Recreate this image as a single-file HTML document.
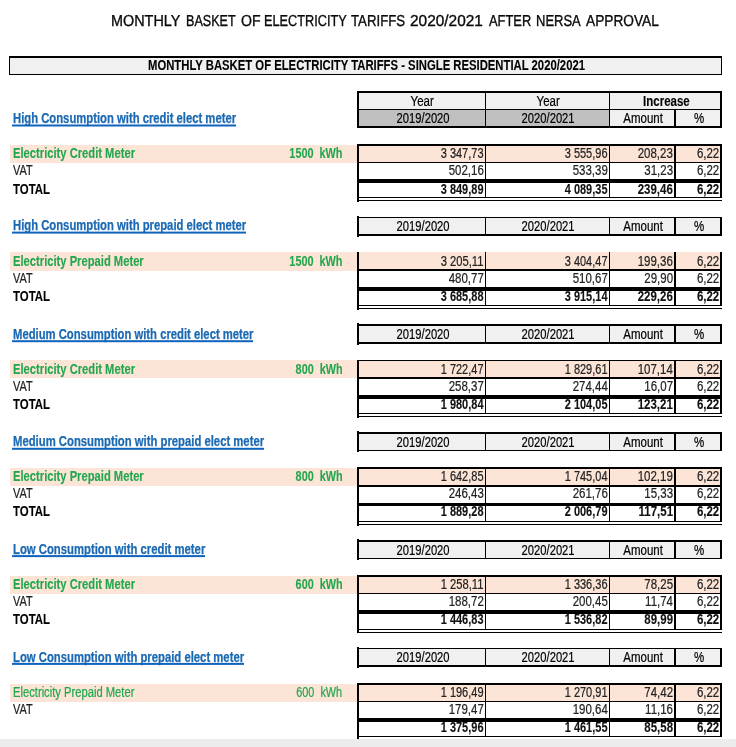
<!DOCTYPE html>
<html><head><meta charset="utf-8"><title>Monthly basket of electricity tariffs</title>
<style>
html,body{margin:0;padding:0;background:#fff}
body{width:736px;height:747px;position:relative;overflow:hidden;will-change:transform;font-family:"Liberation Sans",sans-serif}
.r{position:absolute}
.t{position:absolute;white-space:pre;line-height:1;font-size:14px;-webkit-text-stroke:.22px currentColor}
</style></head><body>
<span class="t" style="top:14.37px;color:#0a0a0a;font-size:15.9px;left:110.95px;transform-origin:0 0;transform:scaleX(0.9064);text-rendering:geometricPrecision;-webkit-text-stroke-width:.35px;">MONTHLY</span>
<span class="t" style="top:14.37px;color:#0a0a0a;font-size:15.9px;left:186.2px;transform-origin:0 0;transform:scaleX(0.7910);text-rendering:geometricPrecision;-webkit-text-stroke-width:.35px;">BASKET</span>
<span class="t" style="top:14.37px;color:#0a0a0a;font-size:15.9px;left:241.2px;transform-origin:0 0;transform:scaleX(0.8878);text-rendering:geometricPrecision;-webkit-text-stroke-width:.35px;">OF</span>
<span class="t" style="top:14.37px;color:#0a0a0a;font-size:15.9px;left:264.2px;transform-origin:0 0;transform:scaleX(0.8019);text-rendering:geometricPrecision;-webkit-text-stroke-width:.35px;">ELECTRICITY</span>
<span class="t" style="top:14.37px;color:#0a0a0a;font-size:15.9px;left:351.2px;transform-origin:0 0;transform:scaleX(0.8319);text-rendering:geometricPrecision;-webkit-text-stroke-width:.35px;">TARIFFS</span>
<span class="t" style="top:14.37px;color:#0a0a0a;font-size:15.9px;left:410.45px;transform-origin:0 0;transform:scaleX(0.9697);text-rendering:geometricPrecision;-webkit-text-stroke-width:.35px;">2020/2021</span>
<span class="t" style="top:14.37px;color:#0a0a0a;font-size:15.9px;left:488.55px;transform-origin:0 0;transform:scaleX(0.8110);text-rendering:geometricPrecision;-webkit-text-stroke-width:.35px;">AFTER</span>
<span class="t" style="top:14.37px;color:#0a0a0a;font-size:15.9px;left:536.2px;transform-origin:0 0;transform:scaleX(0.8174);text-rendering:geometricPrecision;-webkit-text-stroke-width:.35px;">NERSA</span>
<span class="t" style="top:14.37px;color:#0a0a0a;font-size:15.9px;left:586.3px;transform-origin:0 0;transform:scaleX(0.8627);text-rendering:geometricPrecision;-webkit-text-stroke-width:.35px;">APPROVAL</span>
<div class="r" style="left:9px;top:56px;width:713px;height:19px;background:#000"></div>
<div class="r" style="left:10px;top:58px;width:711px;height:16px;background:#f0f0f0"></div>
<span class="t" style="top:58.00px;color:#000;font-weight:700;-webkit-text-stroke-width:.12px;left:147.8px;transform-origin:0 0;transform:scaleX(0.8071);">MONTHLY BASKET OF ELECTRICITY TARIFFS - SINGLE RESIDENTIAL 2020/2021</span>
<div class="r" style="left:357px;top:91px;width:365px;height:19px;background:#000"></div>
<div class="r" style="left:359px;top:93px;width:361px;height:16px;background:#f0f0f0"></div>
<div class="r" style="left:485px;top:93px;width:1px;height:16px;background:#000"></div>
<div class="r" style="left:609px;top:93px;width:1px;height:16px;background:#000"></div>
<span class="t" style="top:94.00px;color:#000;left:408.35px;transform-origin:50% 0;transform:scaleX(0.8200);">Year</span>
<span class="t" style="top:94.00px;color:#000;left:533.85px;transform-origin:50% 0;transform:scaleX(0.8200);">Year</span>
<span class="t" style="top:94.00px;color:#000;font-weight:700;-webkit-text-stroke-width:.12px;left:637.59px;transform-origin:50% 0;transform:scaleX(0.8200);">Increase</span>
<span class="t" style="top:110.60px;color:#1b69b3;font-weight:700;-webkit-text-stroke-width:.12px;left:12.5px;transform-origin:0 0;transform:scaleX(0.8056);-webkit-text-stroke-width:.25px;">High Consumption with credit elect meter</span>
<div class="r" style="left:12px;top:124px;width:224px;height:2px;background:#0f65bd;transform:translateY(0.5px)"></div>
<div class="r" style="left:357px;top:109px;width:365px;height:19px;background:#000"></div>
<div class="r" style="left:359px;top:110px;width:361px;height:16px;background:#f0f0f0"></div>
<div class="r" style="left:359px;top:110px;width:250px;height:16px;background:#c0c0c0"></div>
<div class="r" style="left:485px;top:110px;width:1px;height:16px;background:#000"></div>
<div class="r" style="left:609px;top:110px;width:1px;height:16px;background:#000"></div>
<div class="r" style="left:674px;top:110px;width:2px;height:16px;background:#000"></div>
<span class="t" style="top:111.25px;color:#000;left:389.71px;transform-origin:50% 0;transform:scaleX(0.8008);">2019/2020</span>
<span class="t" style="top:111.25px;color:#000;left:514.71px;transform-origin:50% 0;transform:scaleX(0.8008);">2020/2021</span>
<span class="t" style="top:111.25px;color:#000;left:618.88px;transform-origin:50% 0;transform:scaleX(0.8200);">Amount</span>
<span class="t" style="top:111.25px;color:#000;left:693.07px;transform-origin:50% 0;transform:scaleX(0.8200);">%</span>
<div class="r" style="left:10px;top:145px;width:347px;height:18px;background:#fce4d6"></div>
<div class="r" style="left:357px;top:144px;width:2px;height:58px;background:#000"></div>
<div class="r" style="left:720px;top:144px;width:2px;height:54px;background:#000"></div>
<div class="r" style="left:357px;top:144px;width:365px;height:2px;background:#000"></div>
<div class="r" style="left:359px;top:146px;width:361px;height:16px;background:#fce4d6"></div>
<div class="r" style="left:357px;top:162px;width:365px;height:1px;background:#000"></div>
<div class="r" style="left:357px;top:179px;width:365px;height:4px;background:#000"></div>
<div class="r" style="left:357px;top:197px;width:365px;height:1px;background:#000"></div>
<div class="r" style="left:357px;top:200px;width:365px;height:1px;background:#000"></div>
<div class="r" style="left:485px;top:146px;width:1px;height:51px;background:#000"></div>
<div class="r" style="left:609px;top:146px;width:1px;height:51px;background:#000"></div>
<div class="r" style="left:674px;top:146px;width:2px;height:51px;background:#000"></div>
<span class="t" style="top:146.00px;color:#22a74f;font-weight:700;-webkit-text-stroke-width:.12px;left:12.5px;transform-origin:0 0;transform:scaleX(0.8000);">Electricity Credit Meter</span>
<span class="t" style="top:146.00px;color:#22a74f;font-weight:700;-webkit-text-stroke-width:.12px;left:274.12px;transform-origin:100% 0;transform:scaleX(0.7760);">1500  kWh</span>
<span class="t" style="top:163.00px;color:#222;left:12.6px;transform-origin:0 0;transform:scaleX(0.7791);">VAT</span>
<span class="t" style="top:181.80px;color:#000;font-weight:700;-webkit-text-stroke-width:.12px;left:12.6px;transform-origin:0 0;transform:scaleX(0.8154);">TOTAL</span>
<span class="t" style="top:146.00px;color:#222;left:429.20px;transform-origin:100% 0;transform:scaleX(0.7844);">3 347,73</span>
<span class="t" style="top:146.00px;color:#222;left:553.20px;transform-origin:100% 0;transform:scaleX(0.7844);">3 555,96</span>
<span class="t" style="top:146.00px;color:#222;left:630.47px;transform-origin:100% 0;transform:scaleX(0.8200);">208,23</span>
<span class="t" style="top:146.00px;color:#222;left:691.65px;transform-origin:100% 0;transform:scaleX(0.8200);">6,22</span>
<span class="t" style="top:163.00px;color:#222;left:440.87px;transform-origin:100% 0;transform:scaleX(0.8200);">502,16</span>
<span class="t" style="top:163.00px;color:#222;left:564.87px;transform-origin:100% 0;transform:scaleX(0.8200);">533,39</span>
<span class="t" style="top:163.00px;color:#222;left:638.25px;transform-origin:100% 0;transform:scaleX(0.8200);">31,23</span>
<span class="t" style="top:163.00px;color:#222;left:691.65px;transform-origin:100% 0;transform:scaleX(0.8200);">6,22</span>
<span class="t" style="top:181.60px;color:#111;font-weight:700;-webkit-text-stroke-width:.12px;left:429.20px;transform-origin:100% 0;transform:scaleX(0.7844);">3 849,89</span>
<span class="t" style="top:181.60px;color:#111;font-weight:700;-webkit-text-stroke-width:.12px;left:553.20px;transform-origin:100% 0;transform:scaleX(0.7844);">4 089,35</span>
<span class="t" style="top:181.60px;color:#111;font-weight:700;-webkit-text-stroke-width:.12px;left:630.47px;transform-origin:100% 0;transform:scaleX(0.8200);">239,46</span>
<span class="t" style="top:181.60px;color:#111;font-weight:700;-webkit-text-stroke-width:.12px;left:691.65px;transform-origin:100% 0;transform:scaleX(0.8200);">6,22</span>
<span class="t" style="top:218.20px;color:#1b69b3;font-weight:700;-webkit-text-stroke-width:.12px;left:12.5px;transform-origin:0 0;transform:scaleX(0.8056);-webkit-text-stroke-width:.25px;">High Consumption with prepaid elect meter</span>
<div class="r" style="left:12px;top:231px;width:234px;height:2px;background:#0f65bd;transform:translateY(0.6px)"></div>
<div class="r" style="left:357px;top:216px;width:2px;height:21px;background:#000"></div>
<div class="r" style="left:357px;top:217px;width:365px;height:19px;background:#000"></div>
<div class="r" style="left:359px;top:218px;width:361px;height:16px;background:#f0f0f0"></div>
<div class="r" style="left:485px;top:218px;width:1px;height:16px;background:#000"></div>
<div class="r" style="left:609px;top:218px;width:1px;height:16px;background:#000"></div>
<div class="r" style="left:674px;top:218px;width:2px;height:16px;background:#000"></div>
<span class="t" style="top:218.90px;color:#000;left:389.71px;transform-origin:50% 0;transform:scaleX(0.8008);">2019/2020</span>
<span class="t" style="top:218.90px;color:#000;left:514.71px;transform-origin:50% 0;transform:scaleX(0.8008);">2020/2021</span>
<span class="t" style="top:218.90px;color:#000;left:618.88px;transform-origin:50% 0;transform:scaleX(0.8200);">Amount</span>
<span class="t" style="top:218.90px;color:#000;left:693.07px;transform-origin:50% 0;transform:scaleX(0.8200);">%</span>
<div class="r" style="left:10px;top:252px;width:347px;height:19px;background:#fce4d6"></div>
<div class="r" style="left:357px;top:252px;width:2px;height:58px;background:#000"></div>
<div class="r" style="left:720px;top:252px;width:2px;height:54px;background:#000"></div>
<div class="r" style="left:359px;top:252px;width:361px;height:17px;background:#fce4d6"></div>
<div class="r" style="left:357px;top:269px;width:365px;height:2px;background:#000"></div>
<div class="r" style="left:357px;top:287px;width:365px;height:4px;background:#000"></div>
<div class="r" style="left:357px;top:305px;width:365px;height:1px;background:#000"></div>
<div class="r" style="left:357px;top:308px;width:365px;height:1px;background:#000"></div>
<div class="r" style="left:485px;top:252px;width:1px;height:53px;background:#000"></div>
<div class="r" style="left:609px;top:252px;width:1px;height:53px;background:#000"></div>
<div class="r" style="left:674px;top:252px;width:2px;height:53px;background:#000"></div>
<span class="t" style="top:253.80px;color:#22a74f;font-weight:700;-webkit-text-stroke-width:.12px;left:12.5px;transform-origin:0 0;transform:scaleX(0.8000);">Electricity Prepaid Meter</span>
<span class="t" style="top:253.80px;color:#22a74f;font-weight:700;-webkit-text-stroke-width:.12px;left:274.12px;transform-origin:100% 0;transform:scaleX(0.7760);">1500  kWh</span>
<span class="t" style="top:270.80px;color:#222;left:12.6px;transform-origin:0 0;transform:scaleX(0.7791);">VAT</span>
<span class="t" style="top:289.10px;color:#000;font-weight:700;-webkit-text-stroke-width:.12px;left:12.6px;transform-origin:0 0;transform:scaleX(0.8154);">TOTAL</span>
<span class="t" style="top:253.80px;color:#222;left:430.23px;transform-origin:100% 0;transform:scaleX(0.7995);">3 205,11</span>
<span class="t" style="top:253.80px;color:#222;left:553.20px;transform-origin:100% 0;transform:scaleX(0.7844);">3 404,47</span>
<span class="t" style="top:253.80px;color:#222;left:630.47px;transform-origin:100% 0;transform:scaleX(0.8200);">199,36</span>
<span class="t" style="top:253.80px;color:#222;left:691.65px;transform-origin:100% 0;transform:scaleX(0.8200);">6,22</span>
<span class="t" style="top:270.80px;color:#222;left:440.87px;transform-origin:100% 0;transform:scaleX(0.8200);">480,77</span>
<span class="t" style="top:270.80px;color:#222;left:564.87px;transform-origin:100% 0;transform:scaleX(0.8200);">510,67</span>
<span class="t" style="top:270.80px;color:#222;left:638.25px;transform-origin:100% 0;transform:scaleX(0.8200);">29,90</span>
<span class="t" style="top:270.80px;color:#222;left:691.65px;transform-origin:100% 0;transform:scaleX(0.8200);">6,22</span>
<span class="t" style="top:289.00px;color:#111;font-weight:700;-webkit-text-stroke-width:.12px;left:429.20px;transform-origin:100% 0;transform:scaleX(0.7844);">3 685,88</span>
<span class="t" style="top:289.00px;color:#111;font-weight:700;-webkit-text-stroke-width:.12px;left:553.20px;transform-origin:100% 0;transform:scaleX(0.7844);">3 915,14</span>
<span class="t" style="top:289.00px;color:#111;font-weight:700;-webkit-text-stroke-width:.12px;left:630.47px;transform-origin:100% 0;transform:scaleX(0.8200);">229,26</span>
<span class="t" style="top:289.00px;color:#111;font-weight:700;-webkit-text-stroke-width:.12px;left:691.65px;transform-origin:100% 0;transform:scaleX(0.8200);">6,22</span>
<span class="t" style="top:326.80px;color:#1b69b3;font-weight:700;-webkit-text-stroke-width:.12px;left:12.5px;transform-origin:0 0;transform:scaleX(0.8051);-webkit-text-stroke-width:.25px;">Medium Consumption with credit elect meter</span>
<div class="r" style="left:12px;top:340px;width:241px;height:2px;background:#0f65bd;transform:translateY(0.2px)"></div>
<div class="r" style="left:357px;top:323px;width:2px;height:22px;background:#000"></div>
<div class="r" style="left:357px;top:324px;width:365px;height:20px;background:#000"></div>
<div class="r" style="left:359px;top:326px;width:361px;height:16px;background:#f0f0f0"></div>
<div class="r" style="left:485px;top:326px;width:1px;height:16px;background:#000"></div>
<div class="r" style="left:609px;top:326px;width:1px;height:16px;background:#000"></div>
<div class="r" style="left:674px;top:326px;width:2px;height:16px;background:#000"></div>
<span class="t" style="top:326.80px;color:#000;left:389.71px;transform-origin:50% 0;transform:scaleX(0.8008);">2019/2020</span>
<span class="t" style="top:326.80px;color:#000;left:514.71px;transform-origin:50% 0;transform:scaleX(0.8008);">2020/2021</span>
<span class="t" style="top:326.80px;color:#000;left:618.88px;transform-origin:50% 0;transform:scaleX(0.8200);">Amount</span>
<span class="t" style="top:326.80px;color:#000;left:693.07px;transform-origin:50% 0;transform:scaleX(0.8200);">%</span>
<div class="r" style="left:10px;top:360px;width:347px;height:18px;background:#fce4d6"></div>
<div class="r" style="left:357px;top:360px;width:2px;height:58px;background:#000"></div>
<div class="r" style="left:720px;top:360px;width:2px;height:54px;background:#000"></div>
<div class="r" style="left:357px;top:360px;width:365px;height:1px;background:#000"></div>
<div class="r" style="left:359px;top:361px;width:361px;height:16px;background:#fce4d6"></div>
<div class="r" style="left:357px;top:377px;width:365px;height:2px;background:#000"></div>
<div class="r" style="left:357px;top:395px;width:365px;height:4px;background:#000"></div>
<div class="r" style="left:357px;top:413px;width:365px;height:1px;background:#000"></div>
<div class="r" style="left:357px;top:416px;width:365px;height:1px;background:#000"></div>
<div class="r" style="left:485px;top:361px;width:1px;height:52px;background:#000"></div>
<div class="r" style="left:609px;top:361px;width:1px;height:52px;background:#000"></div>
<div class="r" style="left:674px;top:361px;width:2px;height:52px;background:#000"></div>
<span class="t" style="top:361.60px;color:#22a74f;font-weight:700;-webkit-text-stroke-width:.12px;left:12.5px;transform-origin:0 0;transform:scaleX(0.8000);">Electricity Credit Meter</span>
<span class="t" style="top:361.60px;color:#22a74f;font-weight:700;-webkit-text-stroke-width:.12px;left:281.90px;transform-origin:100% 0;transform:scaleX(0.7760);">800  kWh</span>
<span class="t" style="top:378.60px;color:#222;left:12.6px;transform-origin:0 0;transform:scaleX(0.7791);">VAT</span>
<span class="t" style="top:396.60px;color:#000;font-weight:700;-webkit-text-stroke-width:.12px;left:12.6px;transform-origin:0 0;transform:scaleX(0.8154);">TOTAL</span>
<span class="t" style="top:361.60px;color:#222;left:429.20px;transform-origin:100% 0;transform:scaleX(0.7844);">1 722,47</span>
<span class="t" style="top:361.60px;color:#222;left:553.20px;transform-origin:100% 0;transform:scaleX(0.7844);">1 829,61</span>
<span class="t" style="top:361.60px;color:#222;left:630.47px;transform-origin:100% 0;transform:scaleX(0.8200);">107,14</span>
<span class="t" style="top:361.60px;color:#222;left:691.65px;transform-origin:100% 0;transform:scaleX(0.8200);">6,22</span>
<span class="t" style="top:378.60px;color:#222;left:440.87px;transform-origin:100% 0;transform:scaleX(0.8200);">258,37</span>
<span class="t" style="top:378.60px;color:#222;left:564.87px;transform-origin:100% 0;transform:scaleX(0.8200);">274,44</span>
<span class="t" style="top:378.60px;color:#222;left:638.25px;transform-origin:100% 0;transform:scaleX(0.8200);">16,07</span>
<span class="t" style="top:378.60px;color:#222;left:691.65px;transform-origin:100% 0;transform:scaleX(0.8200);">6,22</span>
<span class="t" style="top:396.60px;color:#111;font-weight:700;-webkit-text-stroke-width:.12px;left:429.20px;transform-origin:100% 0;transform:scaleX(0.7844);">1 980,84</span>
<span class="t" style="top:396.60px;color:#111;font-weight:700;-webkit-text-stroke-width:.12px;left:553.20px;transform-origin:100% 0;transform:scaleX(0.7844);">2 104,05</span>
<span class="t" style="top:396.60px;color:#111;font-weight:700;-webkit-text-stroke-width:.12px;left:630.47px;transform-origin:100% 0;transform:scaleX(0.8200);">123,21</span>
<span class="t" style="top:396.60px;color:#111;font-weight:700;-webkit-text-stroke-width:.12px;left:691.65px;transform-origin:100% 0;transform:scaleX(0.8200);">6,22</span>
<span class="t" style="top:434.30px;color:#1b69b3;font-weight:700;-webkit-text-stroke-width:.12px;left:12.5px;transform-origin:0 0;transform:scaleX(0.8070);-webkit-text-stroke-width:.25px;">Medium Consumption with prepaid elect meter</span>
<div class="r" style="left:12px;top:447px;width:252px;height:2px;background:#0f65bd;transform:translateY(0.8px)"></div>
<div class="r" style="left:357px;top:431px;width:2px;height:21px;background:#000"></div>
<div class="r" style="left:357px;top:432px;width:365px;height:19px;background:#000"></div>
<div class="r" style="left:359px;top:434px;width:361px;height:16px;background:#f0f0f0"></div>
<div class="r" style="left:485px;top:434px;width:1px;height:16px;background:#000"></div>
<div class="r" style="left:609px;top:434px;width:1px;height:16px;background:#000"></div>
<div class="r" style="left:674px;top:434px;width:2px;height:16px;background:#000"></div>
<span class="t" style="top:434.80px;color:#000;left:389.71px;transform-origin:50% 0;transform:scaleX(0.8008);">2019/2020</span>
<span class="t" style="top:434.80px;color:#000;left:514.71px;transform-origin:50% 0;transform:scaleX(0.8008);">2020/2021</span>
<span class="t" style="top:434.80px;color:#000;left:618.88px;transform-origin:50% 0;transform:scaleX(0.8200);">Amount</span>
<span class="t" style="top:434.80px;color:#000;left:693.07px;transform-origin:50% 0;transform:scaleX(0.8200);">%</span>
<div class="r" style="left:10px;top:468px;width:347px;height:18px;background:#fce4d6"></div>
<div class="r" style="left:357px;top:467px;width:2px;height:59px;background:#000"></div>
<div class="r" style="left:720px;top:467px;width:2px;height:55px;background:#000"></div>
<div class="r" style="left:357px;top:467px;width:365px;height:2px;background:#000"></div>
<div class="r" style="left:359px;top:469px;width:361px;height:16px;background:#fce4d6"></div>
<div class="r" style="left:357px;top:485px;width:365px;height:2px;background:#000"></div>
<div class="r" style="left:357px;top:503px;width:365px;height:3px;background:#000"></div>
<div class="r" style="left:357px;top:521px;width:365px;height:1px;background:#000"></div>
<div class="r" style="left:357px;top:524px;width:365px;height:1px;background:#000"></div>
<div class="r" style="left:485px;top:469px;width:1px;height:52px;background:#000"></div>
<div class="r" style="left:609px;top:469px;width:1px;height:52px;background:#000"></div>
<div class="r" style="left:674px;top:469px;width:2px;height:52px;background:#000"></div>
<span class="t" style="top:469.40px;color:#22a74f;font-weight:700;-webkit-text-stroke-width:.12px;left:12.5px;transform-origin:0 0;transform:scaleX(0.8000);">Electricity Prepaid Meter</span>
<span class="t" style="top:469.40px;color:#22a74f;font-weight:700;-webkit-text-stroke-width:.12px;left:281.90px;transform-origin:100% 0;transform:scaleX(0.7760);">800  kWh</span>
<span class="t" style="top:486.40px;color:#222;left:12.6px;transform-origin:0 0;transform:scaleX(0.7791);">VAT</span>
<span class="t" style="top:504.40px;color:#000;font-weight:700;-webkit-text-stroke-width:.12px;left:12.6px;transform-origin:0 0;transform:scaleX(0.8154);">TOTAL</span>
<span class="t" style="top:469.40px;color:#222;left:429.20px;transform-origin:100% 0;transform:scaleX(0.7844);">1 642,85</span>
<span class="t" style="top:469.40px;color:#222;left:553.20px;transform-origin:100% 0;transform:scaleX(0.7844);">1 745,04</span>
<span class="t" style="top:469.40px;color:#222;left:630.47px;transform-origin:100% 0;transform:scaleX(0.8200);">102,19</span>
<span class="t" style="top:469.40px;color:#222;left:691.65px;transform-origin:100% 0;transform:scaleX(0.8200);">6,22</span>
<span class="t" style="top:486.40px;color:#222;left:440.87px;transform-origin:100% 0;transform:scaleX(0.8200);">246,43</span>
<span class="t" style="top:486.40px;color:#222;left:564.87px;transform-origin:100% 0;transform:scaleX(0.8200);">261,76</span>
<span class="t" style="top:486.40px;color:#222;left:638.25px;transform-origin:100% 0;transform:scaleX(0.8200);">15,33</span>
<span class="t" style="top:486.40px;color:#222;left:691.65px;transform-origin:100% 0;transform:scaleX(0.8200);">6,22</span>
<span class="t" style="top:504.30px;color:#111;font-weight:700;-webkit-text-stroke-width:.12px;left:429.20px;transform-origin:100% 0;transform:scaleX(0.7844);">1 889,28</span>
<span class="t" style="top:504.30px;color:#111;font-weight:700;-webkit-text-stroke-width:.12px;left:553.20px;transform-origin:100% 0;transform:scaleX(0.7844);">2 006,79</span>
<span class="t" style="top:504.30px;color:#111;font-weight:700;-webkit-text-stroke-width:.12px;left:631.24px;transform-origin:100% 0;transform:scaleX(0.8200);">117,51</span>
<span class="t" style="top:504.30px;color:#111;font-weight:700;-webkit-text-stroke-width:.12px;left:691.65px;transform-origin:100% 0;transform:scaleX(0.8200);">6,22</span>
<span class="t" style="top:541.80px;color:#1b69b3;font-weight:700;-webkit-text-stroke-width:.12px;left:12.5px;transform-origin:0 0;transform:scaleX(0.8079);-webkit-text-stroke-width:.25px;">Low Consumption with credit meter</span>
<div class="r" style="left:12px;top:555px;width:193px;height:2px;background:#0f65bd;transform:translateY(0.1px)"></div>
<div class="r" style="left:357px;top:539px;width:2px;height:21px;background:#000"></div>
<div class="r" style="left:357px;top:540px;width:365px;height:19px;background:#000"></div>
<div class="r" style="left:359px;top:542px;width:361px;height:16px;background:#f0f0f0"></div>
<div class="r" style="left:485px;top:542px;width:1px;height:16px;background:#000"></div>
<div class="r" style="left:609px;top:542px;width:1px;height:16px;background:#000"></div>
<div class="r" style="left:674px;top:542px;width:2px;height:16px;background:#000"></div>
<span class="t" style="top:542.80px;color:#000;left:389.71px;transform-origin:50% 0;transform:scaleX(0.8008);">2019/2020</span>
<span class="t" style="top:542.80px;color:#000;left:514.71px;transform-origin:50% 0;transform:scaleX(0.8008);">2020/2021</span>
<span class="t" style="top:542.80px;color:#000;left:618.88px;transform-origin:50% 0;transform:scaleX(0.8200);">Amount</span>
<span class="t" style="top:542.80px;color:#000;left:693.07px;transform-origin:50% 0;transform:scaleX(0.8200);">%</span>
<div class="r" style="left:10px;top:576px;width:347px;height:18px;background:#fce4d6"></div>
<div class="r" style="left:357px;top:575px;width:2px;height:58px;background:#000"></div>
<div class="r" style="left:720px;top:575px;width:2px;height:55px;background:#000"></div>
<div class="r" style="left:357px;top:575px;width:365px;height:2px;background:#000"></div>
<div class="r" style="left:359px;top:577px;width:361px;height:16px;background:#fce4d6"></div>
<div class="r" style="left:357px;top:593px;width:365px;height:1px;background:#000"></div>
<div class="r" style="left:357px;top:610px;width:365px;height:4px;background:#000"></div>
<div class="r" style="left:357px;top:629px;width:365px;height:1px;background:#000"></div>
<div class="r" style="left:357px;top:632px;width:365px;height:1px;background:#000"></div>
<div class="r" style="left:485px;top:577px;width:1px;height:52px;background:#000"></div>
<div class="r" style="left:609px;top:577px;width:1px;height:52px;background:#000"></div>
<div class="r" style="left:674px;top:577px;width:2px;height:52px;background:#000"></div>
<span class="t" style="top:577.20px;color:#22a74f;font-weight:700;-webkit-text-stroke-width:.12px;left:12.5px;transform-origin:0 0;transform:scaleX(0.8000);">Electricity Credit Meter</span>
<span class="t" style="top:577.20px;color:#22a74f;font-weight:700;-webkit-text-stroke-width:.12px;left:281.90px;transform-origin:100% 0;transform:scaleX(0.7760);">600  kWh</span>
<span class="t" style="top:594.20px;color:#222;left:12.6px;transform-origin:0 0;transform:scaleX(0.7791);">VAT</span>
<span class="t" style="top:612.40px;color:#000;font-weight:700;-webkit-text-stroke-width:.12px;left:12.6px;transform-origin:0 0;transform:scaleX(0.8154);">TOTAL</span>
<span class="t" style="top:577.20px;color:#222;left:430.23px;transform-origin:100% 0;transform:scaleX(0.7995);">1 258,11</span>
<span class="t" style="top:577.20px;color:#222;left:553.20px;transform-origin:100% 0;transform:scaleX(0.7844);">1 336,36</span>
<span class="t" style="top:577.20px;color:#222;left:638.25px;transform-origin:100% 0;transform:scaleX(0.8200);">78,25</span>
<span class="t" style="top:577.20px;color:#222;left:691.65px;transform-origin:100% 0;transform:scaleX(0.8200);">6,22</span>
<span class="t" style="top:594.20px;color:#222;left:440.87px;transform-origin:100% 0;transform:scaleX(0.8200);">188,72</span>
<span class="t" style="top:594.20px;color:#222;left:564.87px;transform-origin:100% 0;transform:scaleX(0.8200);">200,45</span>
<span class="t" style="top:594.20px;color:#222;left:639.30px;transform-origin:100% 0;transform:scaleX(0.8200);">11,74</span>
<span class="t" style="top:594.20px;color:#222;left:691.65px;transform-origin:100% 0;transform:scaleX(0.8200);">6,22</span>
<span class="t" style="top:612.30px;color:#111;font-weight:700;-webkit-text-stroke-width:.12px;left:429.20px;transform-origin:100% 0;transform:scaleX(0.7844);">1 446,83</span>
<span class="t" style="top:612.30px;color:#111;font-weight:700;-webkit-text-stroke-width:.12px;left:553.20px;transform-origin:100% 0;transform:scaleX(0.7844);">1 536,82</span>
<span class="t" style="top:612.30px;color:#111;font-weight:700;-webkit-text-stroke-width:.12px;left:638.25px;transform-origin:100% 0;transform:scaleX(0.8200);">89,99</span>
<span class="t" style="top:612.30px;color:#111;font-weight:700;-webkit-text-stroke-width:.12px;left:691.65px;transform-origin:100% 0;transform:scaleX(0.8200);">6,22</span>
<span class="t" style="top:649.60px;color:#1b69b3;font-weight:700;-webkit-text-stroke-width:.12px;left:12.5px;transform-origin:0 0;transform:scaleX(0.8073);-webkit-text-stroke-width:.25px;">Low Consumption with prepaid elect meter</span>
<div class="r" style="left:12px;top:662px;width:232px;height:2px;background:#0f65bd;transform:translateY(0.9px)"></div>
<div class="r" style="left:357px;top:647px;width:2px;height:21px;background:#000"></div>
<div class="r" style="left:357px;top:648px;width:365px;height:19px;background:#000"></div>
<div class="r" style="left:359px;top:649px;width:361px;height:16px;background:#f0f0f0"></div>
<div class="r" style="left:485px;top:649px;width:1px;height:16px;background:#000"></div>
<div class="r" style="left:609px;top:649px;width:1px;height:16px;background:#000"></div>
<div class="r" style="left:674px;top:649px;width:2px;height:16px;background:#000"></div>
<span class="t" style="top:650.20px;color:#000;left:389.71px;transform-origin:50% 0;transform:scaleX(0.8008);">2019/2020</span>
<span class="t" style="top:650.20px;color:#000;left:514.71px;transform-origin:50% 0;transform:scaleX(0.8008);">2020/2021</span>
<span class="t" style="top:650.20px;color:#000;left:618.88px;transform-origin:50% 0;transform:scaleX(0.8200);">Amount</span>
<span class="t" style="top:650.20px;color:#000;left:693.07px;transform-origin:50% 0;transform:scaleX(0.8200);">%</span>
<div class="r" style="left:10px;top:684px;width:347px;height:18px;background:#fce4d6"></div>
<div class="r" style="left:357px;top:683px;width:2px;height:56px;background:#000"></div>
<div class="r" style="left:720px;top:683px;width:2px;height:54px;background:#000"></div>
<div class="r" style="left:357px;top:683px;width:365px;height:2px;background:#000"></div>
<div class="r" style="left:359px;top:685px;width:361px;height:16px;background:#fce4d6"></div>
<div class="r" style="left:357px;top:701px;width:365px;height:1px;background:#000"></div>
<div class="r" style="left:357px;top:718px;width:365px;height:4px;background:#000"></div>
<div class="r" style="left:357px;top:736px;width:365px;height:1px;background:#000"></div>
<div class="r" style="left:485px;top:685px;width:1px;height:51px;background:#000"></div>
<div class="r" style="left:609px;top:685px;width:1px;height:51px;background:#000"></div>
<div class="r" style="left:674px;top:685px;width:2px;height:51px;background:#000"></div>
<span class="t" style="top:685.00px;color:#22a74f;left:12.5px;transform-origin:0 0;transform:scaleX(0.8000);">Electricity Prepaid Meter</span>
<span class="t" style="top:685.00px;color:#22a74f;left:283.46px;transform-origin:100% 0;transform:scaleX(0.7760);">600  kWh</span>
<span class="t" style="top:702.00px;color:#222;left:12.6px;transform-origin:0 0;transform:scaleX(0.7791);">VAT</span>
<span class="t" style="top:685.00px;color:#222;left:429.20px;transform-origin:100% 0;transform:scaleX(0.7844);">1 196,49</span>
<span class="t" style="top:685.00px;color:#222;left:553.20px;transform-origin:100% 0;transform:scaleX(0.7844);">1 270,91</span>
<span class="t" style="top:685.00px;color:#222;left:638.25px;transform-origin:100% 0;transform:scaleX(0.8200);">74,42</span>
<span class="t" style="top:685.00px;color:#222;left:691.65px;transform-origin:100% 0;transform:scaleX(0.8200);">6,22</span>
<span class="t" style="top:702.00px;color:#222;left:440.87px;transform-origin:100% 0;transform:scaleX(0.8200);">179,47</span>
<span class="t" style="top:702.00px;color:#222;left:564.87px;transform-origin:100% 0;transform:scaleX(0.8200);">190,64</span>
<span class="t" style="top:702.00px;color:#222;left:639.30px;transform-origin:100% 0;transform:scaleX(0.8200);">11,16</span>
<span class="t" style="top:702.00px;color:#222;left:691.65px;transform-origin:100% 0;transform:scaleX(0.8200);">6,22</span>
<span class="t" style="top:720.10px;color:#111;font-weight:700;-webkit-text-stroke-width:.12px;left:429.20px;transform-origin:100% 0;transform:scaleX(0.7844);">1 375,96</span>
<span class="t" style="top:720.10px;color:#111;font-weight:700;-webkit-text-stroke-width:.12px;left:553.20px;transform-origin:100% 0;transform:scaleX(0.7844);">1 461,55</span>
<span class="t" style="top:720.10px;color:#111;font-weight:700;-webkit-text-stroke-width:.12px;left:638.25px;transform-origin:100% 0;transform:scaleX(0.8200);">85,58</span>
<span class="t" style="top:720.10px;color:#111;font-weight:700;-webkit-text-stroke-width:.12px;left:691.65px;transform-origin:100% 0;transform:scaleX(0.8200);">6,22</span>
<div class="r" style="left:0px;top:739px;width:736px;height:8px;background:#ececec"></div>
</body></html>
